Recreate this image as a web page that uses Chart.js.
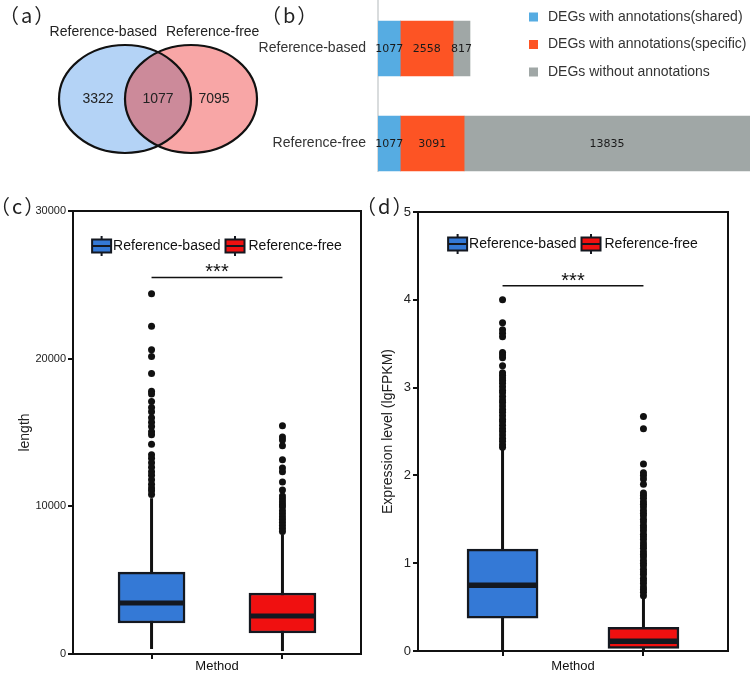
<!DOCTYPE html>
<html>
<head>
<meta charset="utf-8">
<script src="https://cdn.jsdelivr.net/npm/chart.js@4.4.1/dist/chart.umd.min.js"></script>
<style>
  html, body { margin: 0; padding: 0; background: #fff; }
  #page { position: relative; width: 750px; height: 674px; overflow: hidden; background: #fff; }
  canvas { position: absolute; }
  #venn { left: 0; top: 0; }
  #bars { left: 246px; top: 0; }
  #lenBox { left: 0; top: 172px; background: #fff; }
  #exprBox { left: 365px; top: 172px; background: #fff; }
</style>
</head>
<body>
<div id="page">
  <canvas id="venn" width="262" height="165"></canvas>
  <canvas id="bars" width="504" height="192"></canvas>
  <canvas id="lenBox" width="365" height="502"></canvas>
  <canvas id="exprBox" width="385" height="502"></canvas>
</div>
<script>
// (a) venn
const vennSets = ['Reference-based', 'Reference-free']
const vennCounts = [3322, 1077, 7095]   // based only, shared, free only

// (b) annotation breakdown
const methods = ['Reference-based', 'Reference-free']
const annotGroups = ['DEGs with annotations(shared)', 'DEGs with annotations(specific)', 'DEGs without annotations']
const sharedCounts = [1077, 1077]
const specificCounts = [2558, 3091]
const unannotCounts = [817, 13835]

// (c) length boxplots, [based, free]
const lenQ1 = [2100, 1420]
const lenMedian = [3450, 2570]
const lenQ3 = [5550, 4130]
const lenLow = [340, 200]
const lenHigh = [10550, 8100]
const lenOutBased = [24400, 22200, 20600, 20150, 19000, 17800, 17600, 17100, 16700, 16400, 16000, 15700, 15400,
  15050, 14850, 14200, 13500, 13250, 12950, 12650, 12350, 12100, 11800, 11500, 11250, 11050, 10800]
const lenOutFree = [15450, 14700, 14500, 14100, 13150, 12600, 12350, 11650, 11100, 10700, 10500, 10300, 10100,
  9950, 9700, 9500, 9300, 9100, 8900, 8700, 8500, 8300]
const lenTicks = [0, 10000, 20000, 30000]
const lenSig = 25500

// (d) expression boxplots
const exprQ1 = [0.375, 0.03]
const exprMedian = [0.75, 0.11]
const exprQ3 = [1.16, 0.27]
const exprLow = [0.0, 0.0]
const exprHigh = [2.3, 0.6]
const exprOutBased = [4.0, 3.74, 3.66, 3.62, 3.58, 3.4, 3.37, 3.34, 3.25, 3.17, 3.14, 3.11, 3.08, 3.05, 3.01,
  2.97, 2.94, 2.9, 2.86, 2.83, 2.79, 2.75, 2.72, 2.68, 2.64, 2.61, 2.57, 2.53, 2.5, 2.46, 2.42, 2.39, 2.35, 2.32]
const exprOutFree = [2.67, 2.53, 2.13, 2.03, 2.0, 1.96, 1.9, 1.8, 1.77, 1.74, 1.7, 1.67, 1.64, 1.6, 1.57, 1.54,
  1.5, 1.47, 1.43, 1.4, 1.37, 1.33, 1.3, 1.27, 1.23, 1.2, 1.17, 1.13, 1.1, 1.07, 1.03, 1.0, 0.97, 0.93, 0.9,
  0.87, 0.83, 0.8, 0.77, 0.73, 0.7, 0.67, 0.63]
const exprTicks = [0, 1, 2, 3, 4, 5]
const exprSig = 4.16

const SANS = "'Liberation Sans', Arial, sans-serif"
const CJK = "'Noto Sans CJK SC', sans-serif"
Chart.defaults.font.family = SANS
Chart.defaults.color = '#222'

const boxColors = ['#3479d6', '#f01010']
const darkLine = '#141820'

function panelLabel(ctx, text, x, y, size) {
  ctx.save()
  ctx.font = size + 'px ' + CJK
  ctx.letterSpacing = '2px'
  ctx.fillStyle = '#222'
  ctx.textAlign = 'left'
  ctx.textBaseline = 'middle'
  ctx.fillText(text, x, y)
  ctx.restore()
}

// ---------- (a) ----------
const vennPlugin = {
  id: 'venn',
  afterDraw(chart) {
    const { ctx, scales: { x, y } } = chart
    const cy = y.getPixelForValue(99)
    const lx = x.getPixelForValue(125), rx = x.getPixelForValue(191)
    const ell = (cx) => { ctx.beginPath(); ctx.ellipse(cx, cy, 66, 54, 0, 0, Math.PI * 2) }
    ctx.save()
    ell(lx); ctx.fillStyle = '#b4d3f6'; ctx.fill()
    ell(rx); ctx.fillStyle = '#f8a6a6'; ctx.fill()
    ctx.save(); ell(lx); ctx.clip(); ell(rx); ctx.fillStyle = '#cc8a9a'; ctx.fill(); ctx.restore()
    ctx.lineWidth = 2.2; ctx.strokeStyle = '#111'
    ell(lx); ctx.stroke()
    ell(rx); ctx.stroke()

    ctx.fillStyle = '#222'
    ctx.font = '14px ' + SANS
    ctx.textBaseline = 'middle'
    ctx.textAlign = 'center'
    ctx.fillText(vennCounts[0], lx - 27, cy)
    ctx.fillText(vennCounts[1], (lx + rx) / 2, cy)
    ctx.fillText(vennCounts[2], rx + 23, cy)
    ctx.textAlign = 'right'
    ctx.fillText(vennSets[0], 157, 32)
    ctx.textAlign = 'left'
    ctx.fillText(vennSets[1], 166, 32)
    ctx.restore()
    panelLabel(ctx, '（a）', -1, 15, 20)
  }
}

new Chart(document.getElementById('venn'), {
  type: 'scatter',
  data: { datasets: [] },
  options: {
    responsive: false,
    animation: false,
    layout: { padding: 0 },
    scales: {
      x: { display: false, min: 0, max: 262 },
      y: { display: false, min: 0, max: 165, reverse: true }
    },
    plugins: { legend: { display: false }, tooltip: { enabled: false } }
  },
  plugins: [vennPlugin]
})

// ---------- (b) ----------
const barColors = ['#56ace2', '#fd5424', '#a0a7a6']
const freeTotal = sharedCounts[1] + specificCounts[1] + unannotCounts[1]

const barExtras = {
  id: 'barExtras',
  afterDatasetsDraw(chart) {
    const ctx = chart.ctx
    ctx.save()
    ctx.font = "11px 'DejaVu Sans', sans-serif"
    ctx.fillStyle = '#1a1a1a'
    ctx.textAlign = 'center'
    ctx.textBaseline = 'middle'
    chart.data.datasets.forEach((ds, i) => {
      chart.getDatasetMeta(i).data.forEach((bar, j) => {
        const c = bar.getCenterPoint()
        ctx.fillText(ds.data[j], c.x, c.y + 1)
      })
    })
    // legend
    ctx.font = '14px ' + SANS
    ctx.textAlign = 'left'
    chart.data.datasets.forEach((ds, i) => {
      const yy = 17 + i * 27.5
      ctx.fillStyle = ds.backgroundColor
      ctx.fillRect(283, yy - 4.5, 9, 9)
      ctx.fillStyle = '#333'
      ctx.fillText(ds.label, 302, yy)
    })
    ctx.restore()
    panelLabel(ctx, '（b）', 15, 15, 20)
  }
}

new Chart(document.getElementById('bars'), {
  type: 'bar',
  data: {
    labels: methods,
    datasets: [
      { label: annotGroups[0], data: sharedCounts, backgroundColor: barColors[0] },
      { label: annotGroups[1], data: specificCounts, backgroundColor: barColors[1] },
      { label: annotGroups[2], data: unannotCounts, backgroundColor: barColors[2] }
    ]
  },
  options: {
    indexAxis: 'y',
    responsive: false,
    animation: false,
    layout: { padding: { top: 1, bottom: 1, left: 0, right: 0 } },
    datasets: { bar: { barThickness: 55, borderWidth: 0 } },
    scales: {
      x: { stacked: true, display: false, min: 0, max: freeTotal },
      y: {
        stacked: true,
        grid: { display: false, drawTicks: false },
        border: { color: '#d9dcdd', width: 2 },
        ticks: { padding: 12, color: '#333', font: { size: 14 } },
        afterFit(s) { s.width = 132; s.paddingTop = 0; s.paddingBottom = 0 }
      }
    },
    plugins: { legend: { display: false }, tooltip: { enabled: false } }
  },
  plugins: [barExtras]
})

// ---------- (c) and (d) ----------
function drawLegendIcon(ctx, x, y, color) {
  ctx.fillStyle = color
  ctx.fillRect(x, y - 6.5, 19, 13)
  ctx.strokeStyle = darkLine
  ctx.lineWidth = 2
  ctx.strokeRect(x, y - 6.5, 19, 13)
  ctx.beginPath()
  ctx.moveTo(x, y); ctx.lineTo(x + 19, y)
  ctx.moveTo(x + 9.5, y - 10); ctx.lineTo(x + 9.5, y - 6.5)
  ctx.moveTo(x + 9.5, y + 6.5); ctx.lineTo(x + 9.5, y + 10)
  ctx.stroke()
}

function boxChart(id, cfg) {
  const extras = {
    id: 'boxExtras',
    beforeDatasetsDraw(chart) {
      const { ctx, scales: { x, y } } = chart
      ctx.save()
      ctx.strokeStyle = '#111'
      ctx.lineWidth = 3
      cfg.low.forEach((lo, i) => {
        const px = x.getPixelForValue(i + 1)
        ctx.beginPath()
        ctx.moveTo(px, y.getPixelForValue(lo))
        ctx.lineTo(px, y.getPixelForValue(cfg.high[i]))
        ctx.stroke()
      })
      ctx.restore()
    },
    afterDatasetsDraw(chart) {
      const { ctx, chartArea: a, scales: { x, y } } = chart
      ctx.save()
      // medians
      ctx.strokeStyle = darkLine
      ctx.lineWidth = cfg.medianWidth
      chart.getDatasetMeta(0).data.forEach((bar, i) => {
        const py = y.getPixelForValue(cfg.median[i])
        ctx.beginPath()
        ctx.moveTo(bar.x - bar.width / 2 + 1, py)
        ctx.lineTo(bar.x + bar.width / 2 - 1, py)
        ctx.stroke()
      })
      // frame
      ctx.strokeStyle = '#111'
      ctx.lineWidth = 2
      ctx.strokeRect(a.left, a.top, a.right - a.left, a.bottom - a.top)
      // significance
      const sy = y.getPixelForValue(cfg.sig)
      ctx.lineWidth = 1.5
      ctx.beginPath()
      ctx.moveTo(x.getPixelForValue(1), sy)
      ctx.lineTo(x.getPixelForValue(2), sy)
      ctx.stroke()
      ctx.fillStyle = '#111'
      ctx.font = '20px ' + SANS
      ctx.textAlign = 'center'
      ctx.textBaseline = 'alphabetic'
      ctx.fillText('***', x.getPixelForValue(1.5), sy + 1)
      // legend
      ctx.font = '14px ' + SANS
      const w1 = ctx.measureText(methods[0]).width
      const w2 = ctx.measureText(methods[1]).width
      const total = 19 + 2 + w1 + 5 + 19 + 4 + w2
      let lx = (a.left + a.right) / 2 - total / 2
      const ly = a.top + cfg.legendOffset
      drawLegendIcon(ctx, lx, ly, boxColors[0])
      ctx.fillStyle = '#111'
      ctx.textAlign = 'left'
      ctx.textBaseline = 'middle'
      ctx.fillText(methods[0], lx + 21, ly)
      lx += 21 + w1 + 5
      drawLegendIcon(ctx, lx, ly, boxColors[1])
      ctx.fillStyle = '#111'
      ctx.fillText(methods[1], lx + 23, ly)
      ctx.restore()
      panelLabel(ctx, cfg.panel, cfg.panelX, 34, 20)
    }
  }

  const outliers = cfg.out.map((vals, i) => ({
    type: 'scatter',
    data: vals.map(v => ({ x: i + 1, y: v })),
    pointRadius: 3.5,
    pointBackgroundColor: '#111',
    pointBorderWidth: 0
  }))

  return new Chart(document.getElementById(id), {
    type: 'bar',
    data: {
      datasets: [{
        type: 'bar',
        data: cfg.q1.map((q, i) => ({ x: i + 1, y: [q, cfg.q3[i]] })),
        backgroundColor: boxColors,
        borderColor: darkLine,
        borderWidth: 2.5,
        borderSkipped: false,
        barThickness: cfg.boxWidth
      }, ...outliers]
    },
    options: {
      responsive: false,
      animation: false,
      layout: { padding: cfg.padding },
      scales: {
        x: {
          type: 'linear',
          offset: false,
          min: 0.4,
          max: 2.6,
          afterBuildTicks(s) { s.ticks = [{ value: 1 }, { value: 2 }] },
          ticks: { callback: () => '' },
          grid: { display: true, offset: false, drawOnChartArea: false, drawTicks: true, tickLength: 5, color: '#111', lineWidth: 2 },
          border: { display: false },
          title: { display: true, text: 'Method', font: { size: 13 }, color: '#111', padding: { top: 0, bottom: 0 } },
          afterFit(s) { s.height = cfg.xHeight }
        },
        y: {
          type: 'linear',
          min: cfg.ticks[0],
          max: cfg.ticks[cfg.ticks.length - 1],
          afterBuildTicks(s) { s.ticks = cfg.ticks.map(v => ({ value: v })) },
          ticks: { padding: 2, color: '#222', font: { size: cfg.tickSize }, callback: v => String(v) },
          grid: { display: true, offset: false, drawOnChartArea: false, drawTicks: true, tickLength: 5, color: '#111', lineWidth: 2 },
          border: { display: false },
          title: { display: true, text: cfg.yTitle, font: { size: 14 }, color: '#222', padding: { top: cfg.yTitlePad, bottom: 0 } },
          afterFit(s) { s.width = cfg.yWidth }
        }
      },
      plugins: { legend: { display: false }, tooltip: { enabled: false } }
    },
    plugins: [extras]
  })
}

boxChart('lenBox', {
  q1: lenQ1, median: lenMedian, q3: lenQ3, low: lenLow, high: lenHigh,
  out: [lenOutBased, lenOutFree], ticks: lenTicks, sig: lenSig,
  yTitle: 'length', yTitlePad: 16.6, yWidth: 73, xHeight: 20, tickSize: 11,
  boxWidth: 67, medianWidth: 5, legendOffset: 35,
  padding: { top: 39, right: 3, left: 0, bottom: 0 },
  panel: '（c）', panelX: -10
})

boxChart('exprBox', {
  q1: exprQ1, median: exprMedian, q3: exprQ3, low: exprLow, high: exprHigh,
  out: [exprOutBased, exprOutFree], ticks: exprTicks, sig: exprSig,
  yTitle: 'Expression level (lgFPKM)', yTitlePad: 14.6, yWidth: 53, xHeight: 23, tickSize: 13,
  boxWidth: 71, medianWidth: 5.5, legendOffset: 32,
  padding: { top: 40, right: 22, left: 0, bottom: 0 },
  panel: '（d）', panelX: -9
})
</script>
</body>
</html>
